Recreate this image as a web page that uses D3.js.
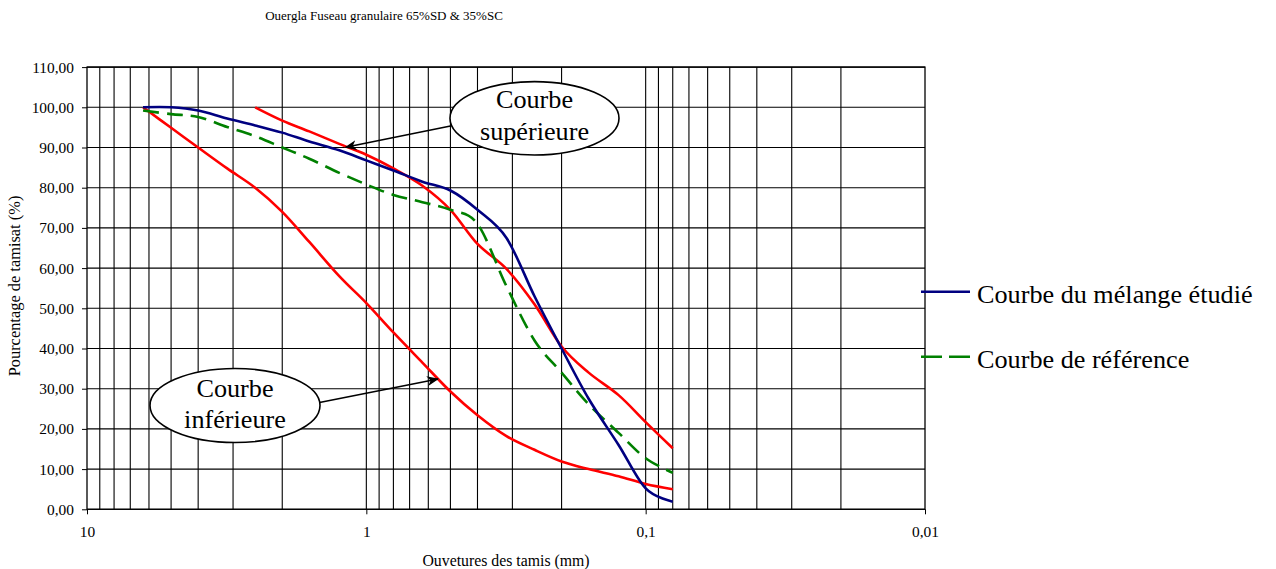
<!DOCTYPE html>
<html>
<head>
<meta charset="utf-8">
<script src="https://cdn.jsdelivr.net/npm/d3@7/dist/d3.min.js"></script>
<style>
  html, body { margin: 0; padding: 0; background: #fff; }
  svg { display: block; font-family: "Liberation Serif", "Times New Roman", serif; }
</style>
</head>
<body>
<svg id="chart" width="1276" height="569"></svg>
<script>
// Sieve openings (mm) and percentages passing
const sieves = [6.3, 5, 4, 3.15, 2.5, 2, 1.6, 1.25, 1, 0.8, 0.63, 0.5, 0.4, 0.315, 0.25, 0.2, 0.16, 0.125, 0.1, 0.08];
const melange   = [100, 100, 99.2, 97.2, 95.5, 93.7, 91.5, 89.3, 86.8, 84.3, 81.5, 79.3, 74.5, 67.5, 53, 40, 27.5, 16, 5.2, 1.9];
const reference = [99.2, 98.3, 97.6, 95.1, 92.8, 90, 87.2, 83.7, 80.8, 78.2, 76.4, 74.5, 71, 55.5, 42, 34, 26.1, 19, 12.7, 9.1];
const superieure = [null, null, null, null, 100, 96.7, 94, 90.9, 88.2, 84.8, 80.5, 74.5, 66, 59.8, 51, 40.5, 34, 28.4, 21.7, 15.2];
const inferieure = [100, 94.9, 90, 84.8, 80, 74, 66.5, 58, 51.3, 44, 36.5, 29.3, 23.4, 18.2, 14.8, 11.9, 10, 8.2, 6.3, 5];

const xMajor = [10, 1, 0.1, 0.01];
const xMajorLabels = ["10", "1", "0,1", "0,01"];
const yTicks = [0, 10, 20, 30, 40, 50, 60, 70, 80, 90, 100, 110];

const titleText = "Ouergla Fuseau granulaire 65%SD & 35%SC";
const xTitle = "Ouvetures des tamis (mm)";
const yTitle = "Pourcentage de tamisat (%)";

const svg = d3.select("#chart");
const plot = { left: 87, top: 67.1, right: 925, bottom: 509.3 };

const x = d3.scaleLog().domain([10, 0.01]).range([plot.left, plot.right]);
const y = d3.scaleLinear().domain([0, 110]).range([plot.bottom, plot.top]);

// Title
svg.append("text")
  .attr("x", 384).attr("y", 20)
  .attr("text-anchor", "middle")
  .attr("font-size", 13)
  .text(titleText);

// Grid: log minor lines for each decade, and horizontal lines every 10 %
const vLines = [];
[1, 0.1, 0.01].forEach(base => {
  for (let k = 1; k <= 9; k++) vLines.push(base * k);
});
const grid = svg.append("g");
grid.selectAll("line.v").data(vLines.filter(v => v < 10 && v > 0.01)).join("line")
  .attr("class", "v")
  .attr("x1", d => x(d)).attr("x2", d => x(d))
  .attr("y1", plot.top).attr("y2", plot.bottom)
  .attr("stroke", "#000").attr("stroke-width", 1.1);
grid.selectAll("line.h").data(yTicks).join("line")
  .attr("class", "h")
  .attr("x1", plot.left).attr("x2", plot.right)
  .attr("y1", d => y(d)).attr("y2", d => y(d))
  .attr("stroke", "#000").attr("stroke-width", 1.1);

// Frame
svg.append("rect")
  .attr("x", plot.left).attr("y", plot.top)
  .attr("width", plot.right - plot.left).attr("height", plot.bottom - plot.top)
  .attr("fill", "none").attr("stroke", "#000").attr("stroke-width", 1.3);

// Axes
const yAxis = d3.axisLeft(y).tickValues(yTicks).tickSize(5).tickPadding(8)
  .tickFormat(d => d3.format(".2f")(d).replace(".", ","));
const gy = svg.append("g").attr("transform", `translate(${plot.left},0)`).call(yAxis);
gy.select(".domain").remove();
gy.attr("font-family", null);
gy.selectAll("text").attr("font-size", 15.4).attr("fill", "#000");

const xAxis = d3.axisBottom(x).tickValues(xMajor).tickSize(5).tickPadding(12)
  .tickFormat((d, i) => xMajorLabels[i]);
const gx = svg.append("g").attr("transform", `translate(0,${plot.bottom})`).call(xAxis);
gx.select(".domain").remove();
gx.attr("font-family", null);
gx.selectAll("text").attr("font-size", 15.4).attr("fill", "#000");

// Axis titles
svg.append("text")
  .attr("x", 506).attr("y", 566)
  .attr("text-anchor", "middle").attr("font-size", 15.8)
  .text(xTitle);
svg.append("text")
  .attr("transform", "translate(19.5,286) rotate(-90)")
  .attr("text-anchor", "middle").attr("font-size", 16.4)
  .text(yTitle);

// Curves (smoothed like a spreadsheet "smoothed line")
const rows = sieves.map((s, i) => ({ s, m: melange[i], r: reference[i], sup: superieure[i], inf: inferieure[i] }));
const makeLine = key => d3.line()
  .defined(d => d[key] != null)
  .x(d => x(d.s)).y(d => y(d[key]))
  .curve(d3.curveCatmullRom.alpha(0));

const curves = svg.append("g").attr("fill", "none").attr("stroke-linejoin", "round");
curves.append("path").datum(rows).attr("d", makeLine("inf"))
  .attr("stroke", "#ff0000").attr("stroke-width", 2.6);
curves.append("path").datum(rows.filter(d => d.sup != null)).attr("d", makeLine("sup"))
  .attr("stroke", "#ff0000").attr("stroke-width", 2.6);
curves.append("path").datum(rows).attr("d", makeLine("r"))
  .attr("stroke", "#008000").attr("stroke-width", 2.6).attr("stroke-dasharray", "16,8");
curves.append("path").datum(rows).attr("d", makeLine("m"))
  .attr("stroke", "#000080").attr("stroke-width", 2.6);

// Callouts
const defs = svg.append("defs");
defs.append("marker")
  .attr("id", "arrow").attr("viewBox", "0 0 12 10")
  .attr("refX", 11).attr("refY", 5)
  .attr("markerWidth", 12).attr("markerHeight", 10)
  .attr("markerUnits", "userSpaceOnUse")
  .attr("orient", "auto")
  .append("path").attr("d", "M0,0 L12,5 L0,10 L3.5,5 Z").attr("fill", "#000");

const callouts = [
  { cx: 534.5, cy: 118.3, rx: 84.5, ry: 36.7, lines: ["Courbe", "supérieure"], base: 108.3, from: [450.5, 126], to: [345.5, 147.3] },
  { cx: 235, cy: 405.5, rx: 85, ry: 37, lines: ["Courbe", "inférieure"], base: 396.7, from: [319.5, 402.5], to: [438, 379] }
];
callouts.forEach(c => {
  const g = svg.append("g");
  g.append("line")
    .attr("x1", c.from[0]).attr("y1", c.from[1])
    .attr("x2", c.to[0]).attr("y2", c.to[1])
    .attr("stroke", "#000").attr("stroke-width", 1.6)
    .attr("marker-end", "url(#arrow)");
  g.append("ellipse")
    .attr("cx", c.cx).attr("cy", c.cy).attr("rx", c.rx).attr("ry", c.ry)
    .attr("fill", "#fff").attr("stroke", "#000").attr("stroke-width", 1.6);
  c.lines.forEach((t, i) => {
    g.append("text")
      .attr("x", c.cx).attr("y", c.base + i * 31.6)
      .attr("text-anchor", "middle").attr("font-size", 26.2)
      .text(t);
  });
});

// Legend
const legend = [
  { label: "Courbe du mélange étudié", color: "#000080", dash: null, y: 291.7 },
  { label: "Courbe de référence", color: "#008000", dash: "21,7", y: 356.7 }
];
const lg = svg.append("g");
legend.forEach(l => {
  lg.append("line")
    .attr("x1", 921).attr("x2", 970).attr("y1", l.y).attr("y2", l.y)
    .attr("stroke", l.color).attr("stroke-width", 2.6)
    .attr("stroke-dasharray", l.dash);
  lg.append("text")
    .attr("x", 977).attr("y", l.y + 11.5)
    .attr("font-size", 26.2)
    .text(l.label);
});
</script>
</body>
</html>
